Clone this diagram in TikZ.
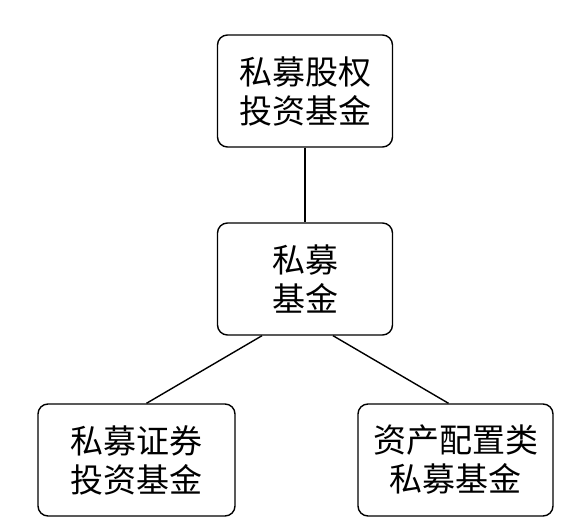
\documentclass[tikz,border=0pt]{standalone}
\usepackage{fontspec}
\usepackage{tikz}
\newfontfamily\cjk{Noto Sans CJK SC}
\usetikzlibrary{positioning}

\begin{document}
\begin{tikzpicture}[x=1pt,y=-1pt,
  fund/.style={draw,line width=1.4pt,rounded corners=10pt,align=center,inner sep=0pt,
    minimum height=112pt,font=\cjk\fontsize{33}{39}\selectfont}]
\useasboundingbox (0,0) rectangle (580,529);
%top box
\node[fund,minimum width=175pt] (equity) at (305,91) {私募股权\\投资基金};
%middle box
\node[fund,minimum width=175pt] (fund) at (305,279) {私募\\基金};
%bottom boxes
\node[fund,minimum width=197pt] (security) at (136.5,460) {私募证券\\投资基金};
\node[fund,minimum width=195pt] (asset) at (455.5,460) {资产配置类\\私募基金};
%lines between
\draw[line width=1.4pt] (equity.south) -- (fund.north);
\draw[line width=1.4pt] ([xshift=-43pt]fund.south) -- ([xshift=10pt]security.north);
\draw[line width=1.4pt] ([xshift=28pt]fund.south) -- ([xshift=-7pt]asset.north);
\end{tikzpicture}
\end{document}
